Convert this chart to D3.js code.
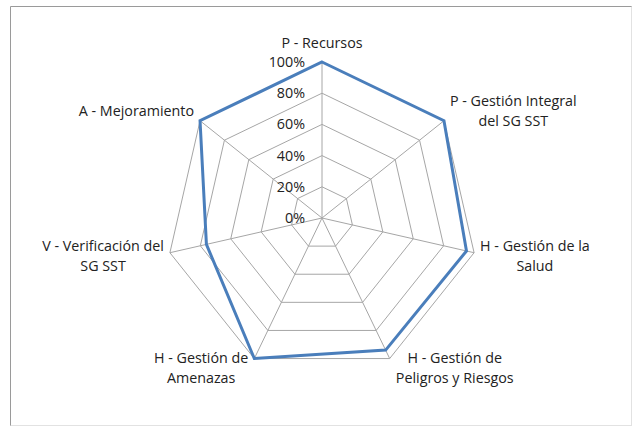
<!DOCTYPE html>
<html><head><meta charset="utf-8">
<script src="https://cdn.jsdelivr.net/npm/d3@7"></script>
<style>body{margin:0;background:#fff}svg{display:block}text{font-family:"Open Sans",sans-serif;fill:#222}</style>
</head><body><svg id="c" width="634" height="429"></svg>
<script>
const categories = [
  ["P - Recursos"],
  ["P - Gestión Integral","del SG SST"],
  ["H - Gestión de la","Salud"],
  ["H - Gestión de","Peligros y Riesgos"],
  ["H - Gestión de","Amenazas"],
  ["V - Verificación del","SG SST"],
  ["A - Mejoramiento"]
];
const values = [1.00, 1.00, 0.95, 0.94, 1.00, 0.76, 1.00];
const ticks = [0, 0.2, 0.4, 0.6, 0.8, 1.0];
const tickLabels = ["0%","20%","40%","60%","80%","100%"];

const svg = d3.select("#c");
const FS = 14.3;
svg.append("line").attr("x1",10.5).attr("y1",6.5).attr("x2",632).attr("y2",6.5).attr("stroke","#9a9a9a");
svg.append("line").attr("x1",10.5).attr("y1",6.5).attr("x2",10.5).attr("y2",426).attr("stroke","#9a9a9a");
svg.append("line").attr("x1",631.5).attr("y1",6.5).attr("x2",631.5).attr("y2",425.5).attr("stroke","#e2e2e2");
svg.append("line").attr("x1",10.5).attr("y1",425.5).attr("x2",632).attr("y2",425.5).attr("stroke","#e2e2e2");

const cx = 322, cy = 218, R = 156;
const n = categories.length;
const r = d3.scaleLinear().domain([0,1]).range([0,R]);
const ang = d3.scaleLinear().domain([0,n]).range([0,2*Math.PI]);
const pt = (i,v) => [cx + r(v)*Math.sin(ang(i)), cy - r(v)*Math.cos(ang(i))];

const g = svg.append("g");
ticks.slice(1).forEach(t=>{
  g.append("path").attr("d", d3.line()(d3.range(n).map(i=>pt(i,t))) + "Z")
   .attr("fill","none").attr("stroke","#a6a6a6").attr("stroke-width",1);
});
d3.range(n).forEach(i=>{
  const p = pt(i,1);
  g.append("line").attr("x1",cx).attr("y1",cy).attr("x2",p[0]).attr("y2",p[1])
   .attr("stroke","#a6a6a6").attr("stroke-width",1);
});
ticks.forEach((t,k)=>{
  g.append("text").attr("x",cx-17).attr("y",cy - r(t)).attr("dy","0.35em")
   .attr("text-anchor","end").attr("font-size",FS).text(tickLabels[k]);
});
g.append("path").attr("d", d3.line()(values.map((v,i)=>pt(i,v))) + "Z")
  .attr("fill","none").attr("stroke","#4a7ebb").attr("stroke-width",3).attr("stroke-linejoin","miter");

const LH = 20;
categories.forEach((lines,i)=>{
  const a = ang(i), s = Math.sin(a), c = Math.cos(a);
  const e = pt(i,1);
  const t = g.append("text").attr("font-size",FS).attr("text-anchor","middle");
  lines.forEach((l,k)=>t.append("tspan").attr("x",0).attr("dy", k===0?0:LH).text(l));
  const w = t.node().getBBox().width, h = lines.length*LH;
  let bx, byc;
  if (Math.abs(s) < 0.1) { bx = e[0]; byc = e[1] - 10 - h/2; }
  else {
    bx = s > 0 ? e[0] + 6 + w/2 : e[0] - 6 - w/2;
    byc = e[1] + (-c)*9 + (c>0.5 ? -5 : 0);
  }
  const firstY = byc - h/2 + LH/2;
  t.attr("transform",`translate(${bx},${firstY})`).attr("dominant-baseline","central");
});
</script></body></html>
